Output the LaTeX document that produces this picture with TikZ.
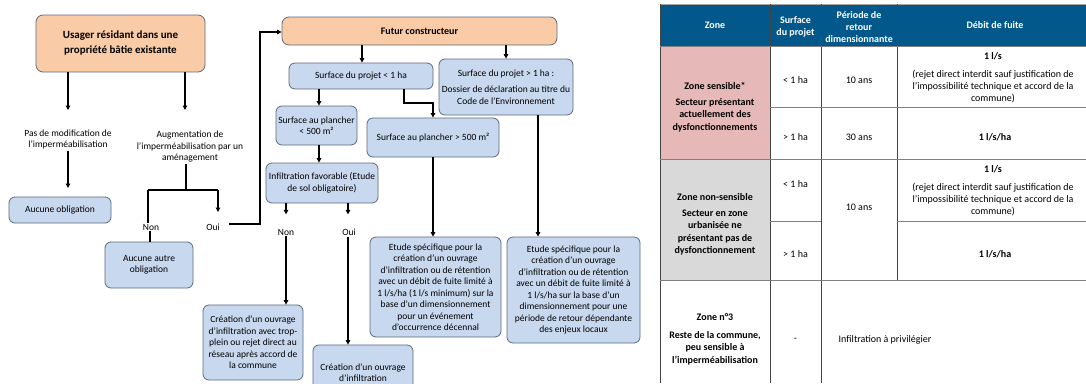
\documentclass[tikz,border=0pt]{standalone}
\usepackage{fontspec}
\setmainfont{Carlito}
\usetikzlibrary{arrows.meta}
\definecolor{orangebox}{HTML}{F9CBA7}
\definecolor{bluebox}{HTML}{C8D8EE}
\definecolor{boxline}{HTML}{5E6B7C}
\definecolor{headblue}{HTML}{03588B}
\definecolor{pinkcell}{HTML}{E6B9B8}
\definecolor{graycell}{HTML}{D9D9D9}
\definecolor{tabline}{HTML}{444444}
\newcommand{\fsm}{\fontsize{9.5}{11.5}\selectfont}
\newcommand{\ftb}{\fontsize{10}{12.3}\selectfont}
\tikzset{
  fbox/.style={draw=boxline, fill=bluebox, rounded corners=6pt, align=center, inner sep=1pt, font=\fsm, line width=0.8pt},
  obox/.style={draw=boxline, fill=orangebox, rounded corners=7pt, align=center, inner sep=1pt, line width=0.8pt},
  lbl/.style={align=center, inner sep=1pt, font=\fsm},
  arr/.style={line width=1.5pt, -{Triangle[length=4.5pt,width=4.5pt]}},
  ln/.style={line width=1.5pt},
  tcell/.style={align=center, inner sep=1pt, font=\ftb},
  thead/.style={align=center, inner sep=1pt, font=\ftb\bfseries, text=white},
  tl/.style={draw=tabline, line width=0.7pt}
}
\begin{document}
\begin{tikzpicture}[x=1pt,y=-1pt]
\useasboundingbox (0,0) rectangle (1086,383);
\clip (0,0) rectangle (1086,383);
\fill[white] (0,0) rectangle (1086,383);

% ---------------- left flowchart ----------------
\node[obox, minimum width=169pt, minimum height=57pt, font=\fontsize{11}{15}\selectfont\bfseries] (usager) at (120.5,43.5) {Usager résidant dans une\\propriété bâtie existante};
\node[lbl] (pasmod) at (68,139.5) {Pas de modification de\\l’imperméabilisation};
\node[lbl] (augm) at (190,147) {Augmentation de\\l’imperméabilisation par un\\aménagement};
\node[fbox, minimum width=102pt, minimum height=26pt] (aucune) at (60,210) {Aucune obligation};
\node[lbl] (non1) at (151,227) {Non};
\node[lbl] (oui1) at (213,227) {Oui};
\node[fbox, minimum width=88pt, minimum height=46pt] (autre) at (149,265) {Aucune autre\\obligation};

\coordinate (a1) at (68,110);
\coordinate (a2) at (185,110);
\draw[arr] (usager.south -| a1) -- (a1);
\draw[arr] (usager.south -| a2) -- (a2);
\coordinate (a3) at (68,188);
\draw[arr] (pasmod.south) -- (a3);
\coordinate (j1) at (186,190);
\coordinate (jl) at (148,190);
\coordinate (jr) at (218,190);
\coordinate (jrend) at (218,212);
\draw[ln] (augm.south -| j1) -- (j1);
\draw[ln] (jl) -- (jr);
\draw[ln] (jl) -- (non1.north -| jl);
\draw[arr] (jr) -- (jrend);
\draw[ln] (non1.south -| 150,0) -- (autre.north -| 150,0);

% ---------------- middle flowchart ----------------
\node[obox, minimum width=275pt, minimum height=28pt, font=\fontsize{10}{12}\selectfont\bfseries] (futur) at (419.5,31) {Futur constructeur};
\coordinate (b1) at (260,222);
\coordinate (b2) at (260,32);
\draw[arr] (oui1.east) ++(8,-3) coordinate (b0) -- (b1 |- b0) -- (b2) -- (futur.west |- b2);

\node[fbox, minimum width=144pt, minimum height=26pt] (s1) at (361,76) {Surface du projet < 1 ha};
\node[fbox, minimum width=134pt, minimum height=56pt] (s2) at (506,87) {Surface du projet > 1 ha :\\[5pt]Dossier de déclaration au titre du\\Code de l’Environnement};
\node[fbox, minimum width=81pt, minimum height=39pt] (p1) at (316.5,125.5) {Surface au plancher\\< 500 m²};
\node[fbox, minimum width=132pt, minimum height=39pt] (p2) at (433,137.5) {Surface au plancher > 500 m²};
\node[fbox, minimum width=112pt, minimum height=40pt] (inf) at (322,183) {Infiltration favorable (Etude\\de sol obligatoire)};
\node[lbl] (non2) at (286,232) {Non};
\node[lbl] (oui2) at (349,232) {Oui};
\node[fbox, minimum width=100pt, minimum height=75pt] (c1) at (253,342.5) {Création d’un ouvrage\\d’infiltration avec trop-\\plein ou rejet direct au\\réseau après accord de\\la commune};
\node[fbox, minimum width=100pt, minimum height=55pt] (c2) at (363,372.5) {Création d’un ouvrage\\d’infiltration};
\node[fbox, minimum width=131pt, minimum height=100pt] (e1) at (435.5,287) {Etude spécifique pour la\\création d’un ouvrage\\d’infiltration ou de rétention\\avec un débit de fuite limité à\\1 l/s/ha (1 l/s minimum) sur la\\base d’un dimensionnement\\pour un événement\\d’occurrence décennal};
\node[fbox, minimum width=133pt, minimum height=106pt] (e2) at (573.5,290) {Etude spécifique pour la\\création d’un ouvrage\\d’infiltration ou de rétention\\avec un débit de fuite limité à\\1 l/s/ha sur la base d’un\\dimensionnement pour une\\période de retour dépendante\\des enjeux locaux};

\draw[arr] (futur.south -| 362,0) -- (s1.north -| 362,0);
\draw[arr] (futur.south -| s2) -- (s2.north);
\draw[arr] (s1.south -| 319,0) -- (p1.north -| 319,0);
\coordinate (d1) at (404,103);
\draw[arr] (s1.south -| d1) -- (d1) -- (d1 -| p2) -- (p2.north);
\draw[arr] (p1.south -| 319,0) -- (inf.north -| 319,0);
\draw[arr] (inf.south -| non2) -- ++(0,11);
\draw[arr] (inf.south -| 348,0) -- ++(0,11);
\draw[arr] (non2.south) -- (c1.north -| non2);
\draw[arr] (oui2.south -| 348,0) -- (c2.north -| 348,0);
\draw[arr] (p2.south) -- (e1.north -| p2);
\draw[arr] (s2.south -| 538,0) -- (e2.north -| 538,0);

% ---------------- table ----------------
\fill[headblue] (660,4) rectangle (1086,46);
\fill[pinkcell] (660,46) rectangle (770,159);
\fill[graycell] (660,159) rectangle (770,280);
\draw[tl, draw=gray!70] (660,4) -- (1086,4);
\draw[tl] (660,4) -- (660,383);
\draw[tl] (770,4) -- (770,383);
\draw[tl] (821,4) -- (821,383);
\draw[tl] (897,4) -- (897,280);
\draw[tl, draw=gray] (660,46) -- (1086,46);
\draw[tl, draw=gray] (770,107) -- (1086,107);
\draw[tl, draw=gray] (660,159) -- (1086,159);
\draw[tl, draw=gray] (770,221) -- (821,221);
\draw[tl, draw=gray] (897,221) -- (1086,221);
\draw[tl, draw=gray] (660,280) -- (1086,280);

\node[thead] (h1) at (715,25) {Zone};
\node[thead] (h2) at (795.5,27) {Surface\\du projet};
\node[thead] (h3) at (859,27) {Période de\\retour\\dimensionnante};
\node[thead] (h4) at (995,25) {Débit de fuite};

\node[tcell, font=\ftb\bfseries] (z1) at (715,107) {Zone sensible*\\[4pt]Secteur présentant\\actuellement des\\dysfonctionnements};
\node[tcell] (r1s) at (795.5,80) {< 1 ha};
\node[tcell] (r1p) at (859,80) {10 ans};
\node[tcell] (r1d) at (993,78) {\textbf{1 l/s}\\[5pt](rejet direct interdit sauf justification de\\l’impossibilité technique et accord de la\\commune)};
\node[tcell] (r2s) at (795.5,137) {> 1 ha};
\node[tcell] (r2p) at (859,137) {30 ans};
\node[tcell, font=\ftb\bfseries] (r2d) at (995,137) {1 l/s/ha};

\node[tcell, font=\ftb\bfseries] (z2) at (715,224) {Zone non-sensible\\[4pt]Secteur en zone\\urbanisée ne\\présentant pas de\\dysfonctionnement};
\node[tcell] (r3s) at (795.5,184) {< 1 ha};
\node[tcell] (r34p) at (859,207) {10 ans};
\node[tcell] (r3d) at (993,191) {\textbf{1 l/s}\\[5pt](rejet direct interdit sauf justification de\\l’impossibilité technique et accord de la\\commune)};
\node[tcell] (r4s) at (795.5,254) {> 1 ha};
\node[tcell, font=\ftb\bfseries] (r4d) at (995,254) {1 l/s/ha};

\node[tcell, font=\ftb\bfseries] (z3) at (715,339) {Zone n°3\\[6pt]Reste de la commune,\\peu sensible à\\l’imperméabilisation};
\node[tcell] (r5s) at (795.5,340) {-};
\node[tcell] (r5d) at (885,340) {Infiltration à privilégier};
\end{tikzpicture}
\end{document}
